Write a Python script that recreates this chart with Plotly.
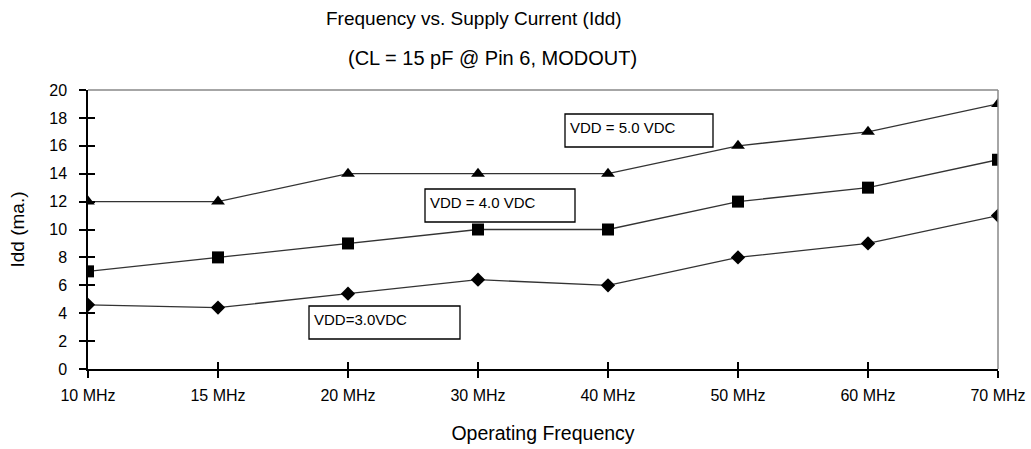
import plotly.graph_objects as go

freqs = ["10 MHz", "15 MHz", "20 MHz", "30 MHz", "40 MHz", "50 MHz", "60 MHz", "70 MHz"]
vdd5 = [12, 12, 14, 14, 14, 16, 17, 19]
vdd4 = [7, 8, 9, 10, 10, 12, 13, 15]
vdd3 = [4.6, 4.4, 5.4, 6.4, 6.0, 8.0, 9.0, 11.0]
yticks = [0, 2, 4, 6, 8, 10, 12, 14, 16, 18, 20]

FONT = "Liberation Sans, Arial, sans-serif"
LINE = "#333333"

W, H = 1031, 449
L, T = 88, 90
PW, PH = 910, 279

fig = go.Figure()
fig.add_trace(go.Scatter(x=freqs, y=vdd5, mode="lines+markers", name="VDD = 5.0 VDC",
                         line=dict(color=LINE, width=1.3),
                         marker=dict(symbol="triangle-up", size=12, color="black")))
fig.add_trace(go.Scatter(x=freqs, y=vdd4, mode="lines+markers", name="VDD = 4.0 VDC",
                         line=dict(color=LINE, width=1.3),
                         marker=dict(symbol="square", size=12, color="black")))
fig.add_trace(go.Scatter(x=freqs, y=vdd3, mode="lines+markers", name="VDD=3.0VDC",
                         line=dict(color=LINE, width=1.3),
                         marker=dict(symbol="diamond", size=11, color="black")))
# invisible trace on overlay axes so the inner tick halves render
fig.add_trace(go.Scatter(x=freqs, y=vdd3, mode="markers", xaxis="x2", yaxis="y2",
                         marker=dict(opacity=0), hoverinfo="skip", showlegend=False))

fig.update_layout(
    width=W, height=H,
    margin=dict(l=L, r=W - L - PW, t=T, b=H - T - PH, autoexpand=False),
    paper_bgcolor="white", plot_bgcolor="white",
    showlegend=False,
    font=dict(family=FONT, size=15, color="black"),
    xaxis=dict(type="category", categoryorder="array", categoryarray=freqs,
               range=[0, 7], showgrid=False, zeroline=False, automargin=False,
               showline=True, linecolor="black", linewidth=1.5,
               ticks="outside", ticklen=7, tickcolor="black", tickwidth=1.5,
               ticklabelstandoff=4,
               tickfont=dict(size=16, family=FONT),
               title=dict(text="Operating Frequency", font=dict(size=19.5, family=FONT), standoff=23)),
    yaxis=dict(range=[0, 20], tickvals=yticks, showgrid=False, zeroline=False, automargin=False,
               showline=True, linecolor="black", linewidth=1.5,
               ticks="outside", ticklen=7, tickcolor="black", tickwidth=1.5,
               ticklabelstandoff=9,
               tickfont=dict(size=16, family=FONT),
               title=dict(text="Idd (ma.)", font=dict(size=19, family=FONT), standoff=20)),
    xaxis2=dict(type="category", categoryorder="array", categoryarray=freqs,
                range=[0, 7], overlaying="x", anchor="y", side="bottom", automargin=False,
                showgrid=False, zeroline=False, showline=False,
                ticks="inside", ticklen=7, tickcolor="black", tickwidth=1.5,
                showticklabels=False),
    yaxis2=dict(range=[0, 20], tickvals=yticks, overlaying="y", anchor="x", side="left",
                automargin=False,
                showgrid=False, zeroline=False, showline=False,
                ticks="inside", ticklen=7, tickcolor="black", tickwidth=1.5,
                showticklabels=False),
)

# gray top and right frame
fig.add_shape(type="line", xref="paper", yref="paper", x0=0, x1=1, y0=1, y1=1,
              line=dict(color="#888888", width=1.5))
fig.add_shape(type="line", xref="paper", yref="paper", x0=1, x1=1, y0=0, y1=1,
              line=dict(color="#888888", width=1.5))

def px_x(sx):
    return (sx - L) / PW

def px_y(sy):
    return 1 - (sy - T) / PH

fig.add_annotation(text="Frequency vs. Supply Current (Idd)", xref="paper", yref="paper",
                   x=px_x(474), y=px_y(19), showarrow=False,
                   font=dict(size=19, family=FONT), xanchor="center", yanchor="middle")
fig.add_annotation(text="(CL = 15 pF @ Pin 6, MODOUT)", xref="paper", yref="paper",
                   x=px_x(492), y=px_y(58), showarrow=False,
                   font=dict(size=20, family=FONT), xanchor="center", yanchor="middle")

boxes = [("VDD = 5.0 VDC", 565, 114, 148, 33),
         ("VDD = 4.0 VDC", 425, 189, 150, 33),
         ("VDD=3.0VDC", 309, 306, 151, 33)]
for txt, bx, by, w, h in boxes:
    fig.add_shape(type="rect", xref="paper", yref="paper",
                  x0=px_x(bx), x1=px_x(bx + w), y0=px_y(by), y1=px_y(by + h),
                  line=dict(color="black", width=1.3), fillcolor="white", layer="above")
    fig.add_annotation(text=txt, xref="paper", yref="paper",
                       x=px_x(bx + 3), y=px_y(by + 13),
                       xanchor="left", yanchor="middle", showarrow=False,
                       font=dict(size=15, family=FONT))

fig.write_html("out.html", config={"displayModeBar": False},
               post_script="document.body.style.margin='0';document.body.style.overflow='hidden';")
